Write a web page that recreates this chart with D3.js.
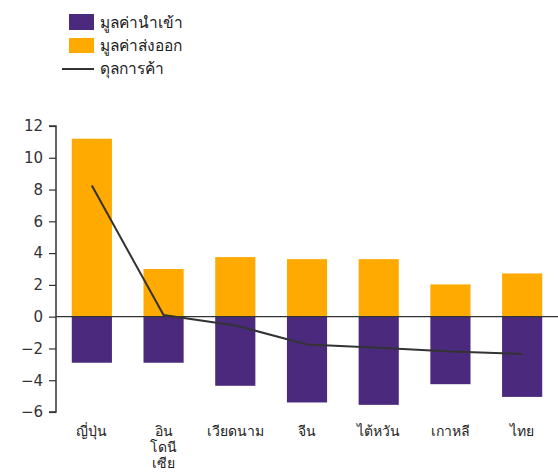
<!DOCTYPE html>
<html>
<head>
<meta charset="utf-8">
<script src="https://d3js.org/d3.v7.min.js"></script>
<style>
  body { margin: 0; background: #fff; }
  text { font-family: Tahoma, "DejaVu Sans", "Noto Sans", sans-serif; }
</style>
</head>
<body>
<div id="chart"></div>
<script>
var countries = ["ญี่ปุ่น", "อินโดนีเซีย", "เวียดนาม", "จีน", "ไต้หวัน", "เกาหลี", "ไทย"];
// labels wrapped as in the picture
var labelLines = [["ญี่ปุ่น"], ["อิน", "โดนี", "เซีย"], ["เวียดนาม"], ["จีน"], ["ไต้หวัน"], ["เกาหลี"], ["ไทย"]];
var imports = [-2.9, -2.9, -4.35, -5.4, -5.55, -4.25, -5.05];
var exports = [11.2, 3.0, 3.75, 3.62, 3.62, 2.03, 2.72];
var balance = [8.25, 0.1, -0.55, -1.75, -1.95, -2.2, -2.35];
var yTicks = [12, 10, 8, 6, 4, 2, 0, -2, -4, -6];

var legendNames = ["มูลค่านำเข้า", "มูลค่าส่งออก", "ดุลการค้า"];
var purple = "#4b2a7d", orange = "#ffaa00", lineCol = "#333333";

var W = 558, H = 476;
var svg = d3.select("#chart").append("svg").attr("width", W).attr("height", H);

var x = d3.scaleBand().domain(countries).range([56, 558]).paddingInner(0.44).paddingOuter(0.22);
var y = d3.scaleLinear().domain([-6, 12]).range([412, 126]);

// bars
svg.selectAll(".exp").data(countries).enter().append("rect")
  .attr("x", function(d) { return x(d); })
  .attr("width", x.bandwidth())
  .attr("y", function(d, i) { return y(exports[i]); })
  .attr("height", function(d, i) { return y(0) - y(exports[i]); })
  .attr("fill", orange);

svg.selectAll(".imp").data(countries).enter().append("rect")
  .attr("x", function(d) { return x(d); })
  .attr("width", x.bandwidth())
  .attr("y", y(0))
  .attr("height", function(d, i) { return y(imports[i]) - y(0); })
  .attr("fill", purple);

// zero line
svg.append("line")
  .attr("x1", 56).attr("x2", W)
  .attr("y1", y(0)).attr("y2", y(0))
  .attr("stroke", "#333").attr("stroke-width", 1.2);

// balance line
var line = d3.line()
  .x(function(d, i) { return x(countries[i]) + x.bandwidth() / 2; })
  .y(function(d) { return y(d); });
svg.append("path").datum(balance)
  .attr("d", line)
  .attr("fill", "none")
  .attr("stroke", lineCol)
  .attr("stroke-width", 2);

// y axis
var yAxis = d3.axisLeft(y).tickValues(yTicks).tickSize(7).tickPadding(6);
var gy = svg.append("g").attr("transform", "translate(56,0)").call(yAxis);
gy.select(".domain").attr("stroke", "#333").attr("stroke-width", 1.5)
  .attr("d", "M-7," + y(12) + "H0V" + y(-6) + "H-7");
gy.selectAll(".tick line").attr("stroke", "#333").attr("stroke-width", 1.2);
gy.selectAll(".tick text").attr("fill", "#333").attr("font-size", 15)
  .attr("font-family", "Tahoma, 'DejaVu Sans', sans-serif");

// x labels
countries.forEach(function(c, i) {
  var t = svg.append("text")
    .attr("x", x(c) + x.bandwidth() / 2)
    .attr("y", 436)
    .attr("text-anchor", "middle")
    .attr("font-size", 14)
    .attr("fill", "#222");
  labelLines[i].forEach(function(s, j) {
    t.append("tspan").attr("x", x(c) + x.bandwidth() / 2).attr("dy", j === 0 ? 0 : 16).text(s);
  });
});

// legend
var lg = svg.append("g");
lg.append("rect").attr("x", 69).attr("y", 14).attr("width", 25).attr("height", 16).attr("fill", purple);
lg.append("rect").attr("x", 69).attr("y", 38).attr("width", 25).attr("height", 15).attr("fill", orange);
lg.append("line").attr("x1", 62).attr("x2", 94).attr("y1", 69).attr("y2", 69)
  .attr("stroke", lineCol).attr("stroke-width", 2);
legendNames.forEach(function(n, i) {
  lg.append("text").attr("x", 100).attr("y", 28 + i * 23)
    .attr("font-size", 15.5).attr("fill", "#222").text(n);
});
</script>
</body>
</html>
